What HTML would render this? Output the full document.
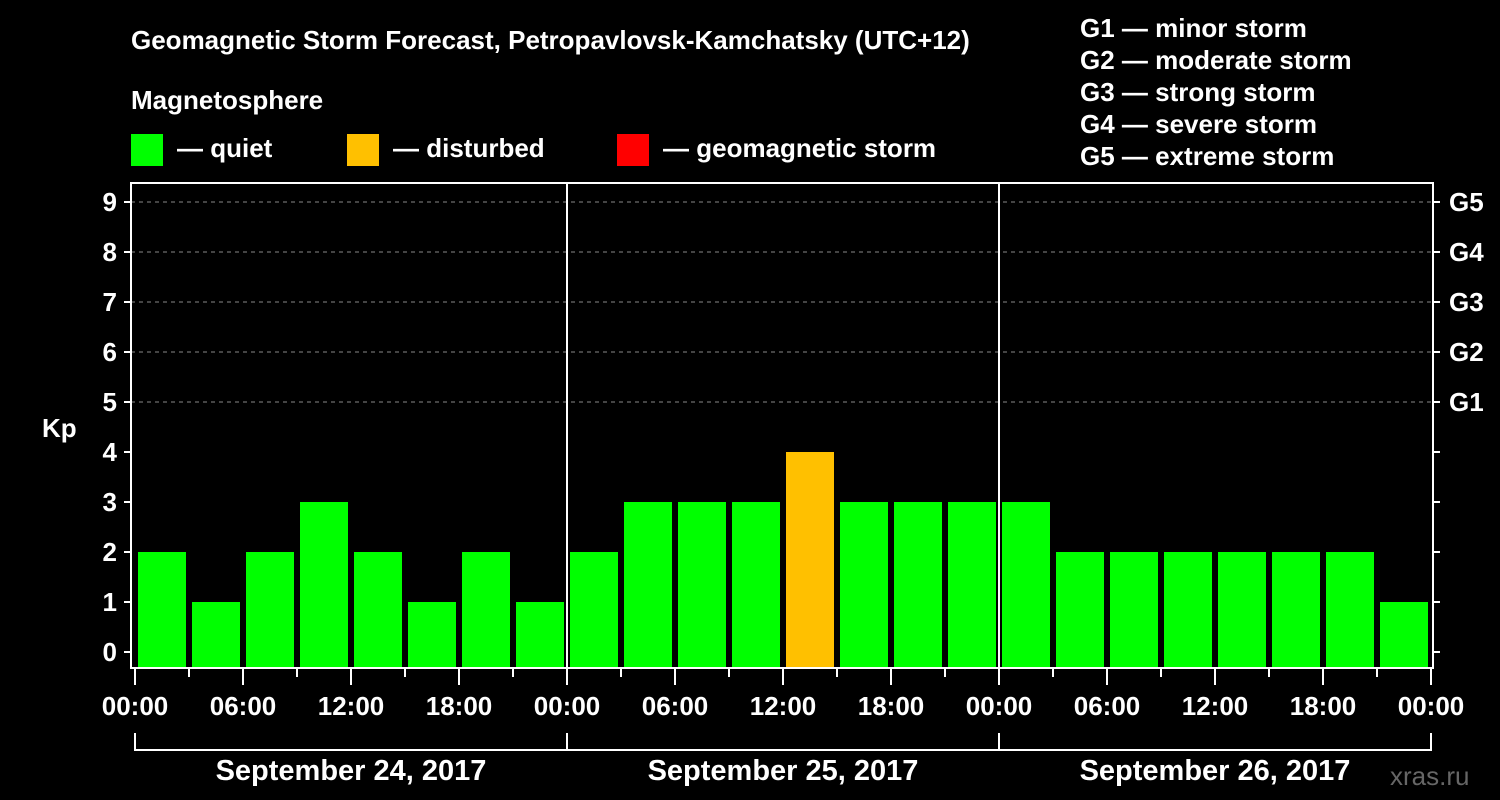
<!DOCTYPE html>
<html><head><meta charset="utf-8"><style>
html,body{margin:0;padding:0;background:#000;}
svg{display:block;font-family:"Liberation Sans",Arial,sans-serif;font-weight:bold;}
</style></head><body>
<svg id="chart" width="1500" height="800" viewBox="0 0 1500 800">
<rect x="0" y="0" width="1500" height="800" fill="#000"/>
<text x="131" y="49" fill="#fff" font-size="26">Geomagnetic Storm Forecast, Petropavlovsk-Kamchatsky (UTC+12)</text>
<text x="131" y="109" fill="#fff" font-size="26">Magnetosphere</text>
<g>
<rect x="131" y="134" width="32" height="32" fill="#00ff00"/>
<text x="177" y="157" fill="#fff" font-size="26">— quiet</text>
<rect x="347" y="134" width="32" height="32" fill="#ffc000"/>
<text x="393" y="157" fill="#fff" font-size="26">— disturbed</text>
<rect x="617" y="134" width="32" height="32" fill="#ff0000"/>
<text x="663" y="157" fill="#fff" font-size="26">— geomagnetic storm</text>
</g>
<g font-size="26" fill="#fff">
<text x="1080" y="37">G1 — minor storm</text>
<text x="1080" y="69">G2 — moderate storm</text>
<text x="1080" y="101">G3 — strong storm</text>
<text x="1080" y="133">G4 — severe storm</text>
<text x="1080" y="165">G5 — extreme storm</text>
</g>
<text x="42" y="437" fill="#fff" font-size="26">Kp</text>
<text x="1390" y="785" fill="#666" font-size="26" font-weight="normal">xras.ru</text>
<g id="plot"></g>
</svg>
<script>
const kpValues=[2,1,2,3,2,1,2,1, 2,3,3,3,4,3,3,3, 3,2,2,2,2,2,2,1];
const dayLabels=["September 24, 2017","September 25, 2017","September 26, 2017"];
const hourLabels=["00:00","06:00","12:00","18:00"];
const yTicks=[0,1,2,3,4,5,6,7,8,9];
const gLabels=["G1","G2","G3","G4","G5"];

const NS="http://www.w3.org/2000/svg";
const g=document.getElementById('plot');
const L=131,R=1433,T=183,B=668,X0=135,DAY=432;
const nDays=dayLabels.length;
const step=DAY/8;
function xs(h){return X0+h*(DAY/24);}
function ys(k){return 652-50*k;}
function mk(tag,attrs){const e=document.createElementNS(NS,tag);for(const k in attrs)e.setAttribute(k,attrs[k]);g.appendChild(e);return e;}
function color(k){return k>=5?'#ff0000':(k>=4?'#ffc000':'#00ff00');}

// grid lines
yTicks.forEach(k=>{if(k>=5){const l=mk('line',{x1:L,x2:R,y1:ys(k),y2:ys(k),stroke:'#888','stroke-dasharray':'4,4','stroke-width':1});

}});
// bars
kpValues.forEach((v,i)=>{const x=xs(i*3)+3;const r=mk('rect',{x:x,y:ys(v),width:step-6,height:B-1-ys(v),fill:color(v)});

});
// day separators
for(let d=1;d<nDays;d++){const l=mk('line',{x1:xs(d*24),x2:xs(d*24),y1:T,y2:B,stroke:'#fff','stroke-width':2});

}
// frame
const f=mk('rect',{x:L,y:T,width:R-L,height:B-T,fill:'none',stroke:'#fff','stroke-width':2});


// y ticks & labels
yTicks.forEach(k=>{
 const a=mk('line',{x1:L-7,x2:L,y1:ys(k),y2:ys(k),stroke:'#fff','stroke-width':2});
 
 
 const b=mk('line',{x1:R,x2:R+7,y1:ys(k),y2:ys(k),stroke:'#fff','stroke-width':2});
 
 
 const t=mk('text',{x:L-14,y:ys(k)+9,fill:'#fff','font-size':26,'text-anchor':'end'});t.textContent=k;
 
 
});
gLabels.forEach((s,i)=>{const t=mk('text',{x:R+16,y:ys(5+i)+9,fill:'#fff','font-size':26});t.textContent=s;
 
 });
// x ticks
for(let h=0;h<=24*nDays;h+=3){const major=h%6===0;const l=mk('line',{x1:xs(h),x2:xs(h),y1:B+1,y2:B+(major?17:9),stroke:'#fff','stroke-width':2});
 
 
 if(major){const t=mk('text',{x:xs(h),y:715,fill:'#fff','font-size':26,'text-anchor':'middle'});t.textContent=hourLabels[(h/6)%4];
 
 }}
// day brackets
dayLabels.forEach((s,d)=>{const x1=xs(d*24),x2=xs((d+1)*24);
 const p=mk('path',{d:`M${x1} 733V750H${x2}V733`,fill:'none',stroke:'#fff','stroke-width':2});
 
 
 const t=mk('text',{x:(x1+x2)/2,y:780,fill:'#fff','font-size':29,'text-anchor':'middle'});t.textContent=s;
 
 });
</script>
</body></html>
